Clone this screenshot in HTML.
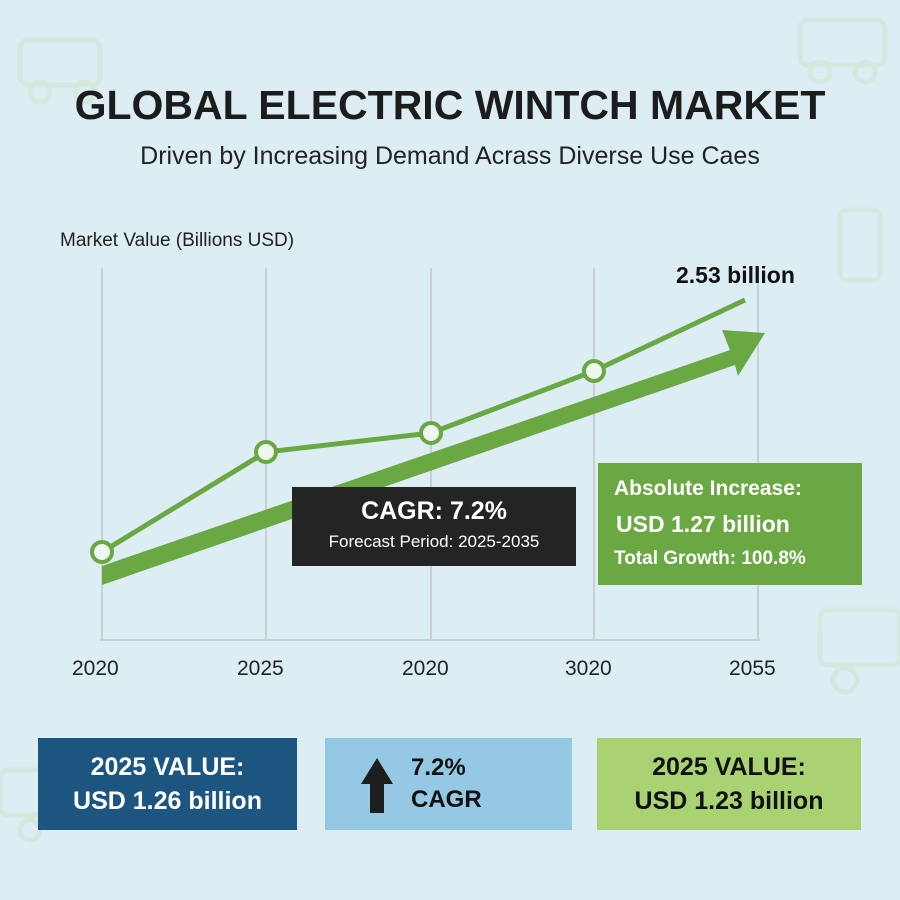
<!DOCTYPE html>
<html><head><meta charset="utf-8"><style>
body{margin:0;width:900px;height:900px;background:#dcedf4;font-family:"Liberation Sans",sans-serif;position:relative;overflow:hidden}
.a{position:absolute}
.c{text-align:center}
</style></head><body>
<svg class="a" style="left:0;top:0" width="900" height="900">
<g fill="none" stroke="#d2e8d6" stroke-width="5" opacity="0.7">
<rect x="20" y="40" width="80" height="45" rx="8"/><circle cx="40" cy="92" r="10"/><circle cx="85" cy="92" r="10"/>
<rect x="800" y="20" width="85" height="45" rx="8"/><circle cx="820" cy="72" r="10"/><circle cx="865" cy="72" r="10"/>
<rect x="820" y="610" width="80" height="55" rx="8"/><circle cx="845" cy="680" r="12"/>
<rect x="0" y="770" width="60" height="45" rx="8"/><circle cx="30" cy="830" r="10"/>
<rect x="840" y="210" width="40" height="70" rx="6"/>
</g>
<g stroke="#c9cfd2" stroke-width="2">
<line x1="102" y1="268" x2="102" y2="640"/><line x1="266" y1="268" x2="266" y2="640"/>
<line x1="431" y1="268" x2="431" y2="640"/><line x1="594" y1="268" x2="594" y2="640"/>
<line x1="758" y1="268" x2="758" y2="640"/><line x1="100" y1="640" x2="760" y2="640"/>
</g>
<polygon points="102,566 730,350 722,330 765,333 738,376 735,365 102,585" fill="#6aa843"/>
<polyline points="102,552 266,452 431,433 594,371 745,300" fill="none" stroke="#6aa843" stroke-width="5"/>
<g fill="#eef6ef" stroke="#6aa843" stroke-width="4">
<circle cx="102" cy="552" r="10"/><circle cx="266" cy="452" r="10"/><circle cx="431" cy="433" r="10"/><circle cx="594" cy="371" r="10"/>
</g>
</svg>
<div class="a c" style="left:0;top:82px;width:900px;font-size:41px;font-weight:bold;color:#1c1c1c">GLOBAL ELECTRIC WINTCH MARKET</div>
<div class="a c" style="left:0;top:142px;width:900px;font-size:25px;color:#222">Driven by Increasing Demand Acrass Diverse Use Caes</div>
<div class="a" style="left:60px;top:230px;font-size:19px;color:#222">Market Value (Billions USD)</div>
<div class="a" style="left:676px;top:262px;font-size:23px;font-weight:bold;color:#111">2.53 billion</div>
<div class="a c" style="left:292px;top:487px;width:284px;height:79px;background:#242424;color:#fff">
<div style="font-size:25px;font-weight:bold;margin-top:10px">CAGR: 7.2%</div>
<div style="font-size:17px;margin-top:6px">Forecast Period: 2025-2035</div></div>
<div class="a" style="left:598px;top:463px;width:264px;height:122px;background:#6aa843;color:#fff;font-weight:bold">
<div style="font-size:21px;margin:14px 0 0 16px">Absolute Increase:</div>
<div style="font-size:23px;margin:10px 0 0 18px">USD 1.27 billion</div>
<div style="font-size:19px;margin:10px 0 0 16px">Total Growth: 100.8%</div></div>
<div class="a" style="top:657px;left:72px;font-size:21px;color:#222">2020</div>
<div class="a" style="top:657px;left:237px;font-size:21px;color:#222">2025</div>
<div class="a" style="top:657px;left:402px;font-size:21px;color:#222">2020</div>
<div class="a" style="top:657px;left:565px;font-size:21px;color:#222">3020</div>
<div class="a" style="top:657px;left:729px;font-size:21px;color:#222">2055</div>
<div class="a c" style="left:38px;top:738px;width:259px;height:92px;background:#1c5580;color:#fff;font-weight:bold;font-size:25px;line-height:34px;padding-top:12px;box-sizing:border-box">2025 VALUE:<br>USD 1.26 billion</div>
<div class="a" style="left:325px;top:738px;width:247px;height:92px;background:#95c9e3;color:#111;font-weight:bold;font-size:24px;line-height:32px;padding:14px 0 0 86px;box-sizing:border-box">7.2%<br>CAGR</div>
<svg class="a" style="left:360px;top:756px" width="36" height="60"><polygon points="1,28 17,2 33,28 24,28 24,57 10,57 10,28" fill="#1e1e1e"/></svg>
<div class="a c" style="left:597px;top:738px;width:264px;height:92px;background:#a9d273;color:#111;font-weight:bold;font-size:25px;line-height:34px;padding-top:12px;box-sizing:border-box">2025 VALUE:<br>USD 1.23 billion</div>
</body></html>
